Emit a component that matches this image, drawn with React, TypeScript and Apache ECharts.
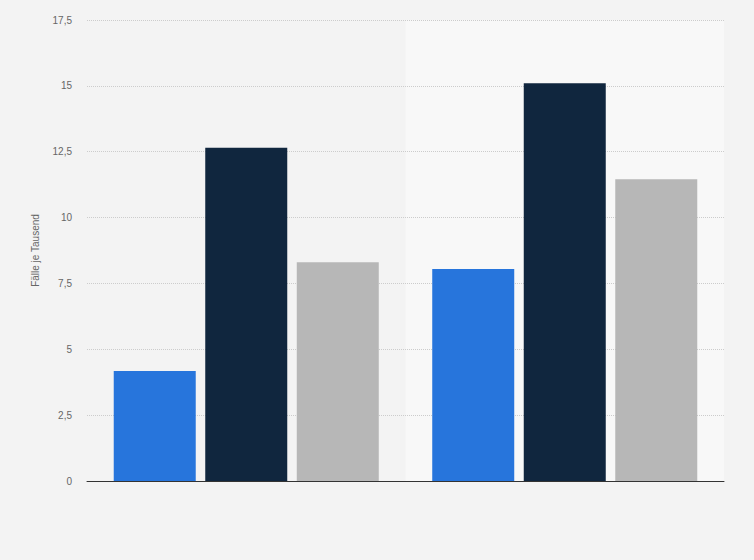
import React, { useEffect, useRef } from "react";
import * as echarts from "echarts";

const categories = ["Gruppe 1", "Gruppe 2"];
const seriesNames = ["Serie A", "Serie B", "Serie C"];
const seriesA = [4.18, 8.05];
const seriesB = [12.65, 15.1];
const seriesC = [8.3, 11.45];
const colors = ["#2775dc", "#10263e", "#b7b7b7"];

export default function App() {
  const ref = useRef<HTMLDivElement>(null);
  useEffect(() => {
    const chart = echarts.init(ref.current!, null, { renderer: "svg" });
    const data = [seriesA, seriesB, seriesC];
    chart.setOption({
      animation: false,
      backgroundColor: "#f3f3f3",
      grid: { left: 87, right: 30, top: 20, bottom: 79 },
      xAxis: [
        {
          type: "category",
          data: categories,
          z: 0,
          axisLabel: { show: false },
          axisTick: { show: false },
          axisLine: { show: false },
          splitArea: { show: true, areaStyle: { color: ["rgba(0,0,0,0)", "#f8f8f8"] } },
        },
        {
          type: "category",
          data: categories,
          position: "bottom",
          z: 6,
          axisLabel: { show: false },
          axisTick: { show: false },
          axisLine: { lineStyle: { color: "#333", width: 1 } },
          splitArea: { show: false },
          splitLine: { show: false },
        },
      ],
      yAxis: {
        type: "value",
        z: 1,
        min: 0,
        max: 17.5,
        interval: 2.5,
        name: "Fälle je Tausend",
        nameLocation: "middle",
        nameGap: 47,
        nameRotate: 90,
        nameTextStyle: { color: "#666", fontSize: 10, fontFamily: "Arial, Liberation Sans, sans-serif" },
        axisLabel: {
          color: "#666",
          fontSize: 10,
          margin: 15,
          fontFamily: "Arial, Liberation Sans, sans-serif",
          formatter: (v: number) => String(v).replace(".", ","),
        },
        axisLine: { show: false },
        axisTick: { show: false },
        splitLine: { lineStyle: { color: "#cccccc", type: [1, 1], width: 1 } },
      },
      series: data.map((d, i) => ({
        type: "bar",
        name: seriesNames[i],
        data: d,
        xAxisIndex: 0,
        z: 3,
        barWidth: 82,
        barGap: "11.6%",
        itemStyle: { color: colors[i] },
      })),
    });
    return () => chart.dispose();
  }, []);
  return <div ref={ref} style={{ width: 754, height: 560, position: "absolute", left: 0, top: 0 }} />;
}
